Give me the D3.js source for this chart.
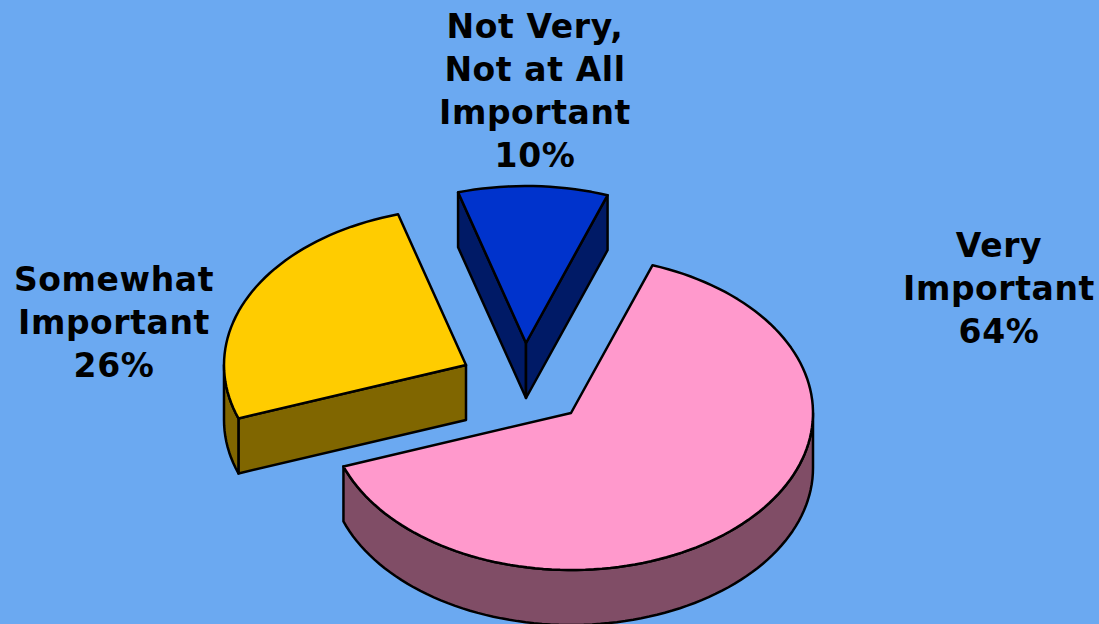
<!DOCTYPE html>
<html><head><meta charset="utf-8">
<script src="https://cdnjs.cloudflare.com/ajax/libs/d3/7.8.5/d3.min.js"></script>
<style>html,body{margin:0;padding:0;background:#6BA9F1;overflow:hidden}svg{display:block}</style>
</head><body><svg id="c" width="1099" height="624"></svg>
<script>
const categories = ["Very Important", "Somewhat Important", "Not Very, Not at All Important"];
const values = [64, 26, 10];
const labelLines = [["Very","Important","64%"],["Somewhat","Important","26%"],["Not Very,","Not at All","Important","10%"]];
const topColors = ["#FF99CC","#FFCC00","#0033CC"];
const sideColors = ["#804D66","#806600","#001A66"];

const W=1099,H=624, RX=242, RY=157, DEPTH=55;
const centers=[[571,413],[466,365],[526,343]];
const labelPos=[[999,257],[114,291],[535,38]];
const svg=d3.select("#c");
svg.append("rect").attr("width",W).attr("height",H).attr("fill","#6BA9F1");
const pie=d3.pie().sort(null).startAngle(19.7*Math.PI/180).endAngle(379.7*Math.PI/180);
const arcs=pie(values);
const px=d3.scaleLinear().domain([-1,1]).range([-RX,RX]);
const py=d3.scaleLinear().domain([-1,1]).range([-RY,RY]);
const pt=(c,a,dz=0)=>[c[0]+px(Math.sin(a)),c[1]+py(-Math.cos(a))+dz];
const line=d3.line();
const stroke={stroke:"#000","stroke-width":2.5,"stroke-linejoin":"round"};
function poly(g,pts,fill){
  const p=g.append("path").attr("d",line(pts)+"Z").attr("fill",fill);
  Object.entries(stroke).forEach(([k,v])=>p.attr(k,v));
}
function angles(a0,a1){
  const n=Math.max(2,Math.ceil((a1-a0)/(Math.PI/90)));
  return d3.range(n+1).map(i=>a0+(a1-a0)*i/n);
}
[2,1,0].forEach(i=>{
  const d=arcs[i],c=centers[i],g=svg.append("g").attr("class","slice").attr("data-name",categories[i]);
  const side=sideColors[i],mid=pt(c,(d.startAngle+d.endAngle)/2);
  [d.startAngle,d.endAngle].forEach(a=>{
    const e=pt(c,a);
    let nx=-(e[1]-c[1]),ny=e[0]-c[0];
    const side0=nx*(mid[0]-c[0])+ny*(mid[1]-c[1]);
    if(side0>0){nx=-nx;ny=-ny;}
    if(ny>0) poly(g,[c,e,[e[0],e[1]+DEPTH],[c[0],c[1]+DEPTH]],side);
  });
  const lo=Math.max(d.startAngle,Math.PI/2),hi=Math.min(d.endAngle,1.5*Math.PI);
  if(hi>lo){
    const as=angles(lo,hi);
    poly(g,as.map(a=>pt(c,a)).concat(as.slice().reverse().map(a=>pt(c,a,DEPTH))),side);
  }
  poly(g,[c].concat(angles(d.startAngle,d.endAngle).map(a=>pt(c,a))),topColors[i]);
});
labelLines.forEach((ls,i)=>{
  const t=svg.append("text").attr("text-anchor","middle").attr("font-family","'DejaVu Sans',Verdana,sans-serif")
    .attr("font-weight","bold").attr("font-size",33).attr("letter-spacing",0.6).attr("fill","#000");
  ls.forEach((s,j)=>t.append("tspan").attr("x",labelPos[i][0]).attr("y",labelPos[i][1]+j*43).text(s));
});
</script></body></html>
